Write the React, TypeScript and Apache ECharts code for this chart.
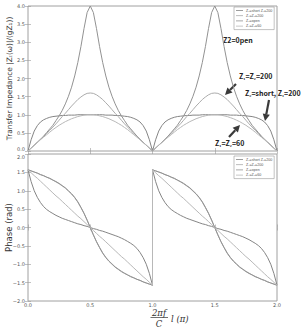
import React, { useEffect, useRef } from "react";
import * as echarts from "echarts";

// Electrical length 2πf·l/C in units of π; one period is sampled every 0.025.
const STEP = 0.025;
const PERIODS = [0, 1];

const SERIES_NAMES = ["Z\u2082=short Z\u2081=200", "Z\u2081=Z\u2082=200", "Z\u2082=open", "Z\u2081=Z\u2082=60"];
const COLORS = ["#858585", "#ababab", "#929292", "#b8b8b8"];

// |Zt| / (g Z1) over one period (0 … 1)
const magShort = [0, .31, .55, .70, .80, .86, .90, .93, .95, .96, .97, .98, .98, .99, .99, .99, 1.0, 1.0, 1.0, 1.0, 1.0,
  1.0, 1.0, 1.0, 1.0, .99, .99, .99, .98, .98, .97, .96, .95, .93, .90, .86, .80, .70, .55, .31, 0];
const mag200 = [0, .08, .16, .24, .32, .40, .49, .57, .66, .75, .85, .95, 1.04, 1.14, 1.24, 1.33, 1.42, 1.49, 1.55, 1.59, 1.60,
  1.59, 1.55, 1.49, 1.42, 1.33, 1.24, 1.14, 1.04, .95, .85, .75, .66, .57, .49, .40, .32, .24, .16, .08, 0];
const magOpen = [0, .08, .16, .24, .32, .41, .51, .61, .71, .84, .97, 1.12, 1.30, 1.51, 1.76, 2.07, 2.44, 2.88, 3.38, 3.82, 4.0,
  3.82, 3.38, 2.88, 2.44, 2.07, 1.76, 1.51, 1.30, 1.12, .97, .84, .71, .61, .51, .41, .32, .24, .16, .08, 0];
const mag60 = [0, .08, .16, .23, .31, .38, .45, .52, .59, .65, .71, .76, .81, .85, .89, .92, .95, .97, .99, 1.0, 1.0,
  1.0, .99, .97, .95, .92, .89, .85, .81, .76, .71, .65, .59, .52, .45, .38, .31, .23, .16, .08, 0];

// Phase (rad) over one period (0 … 1)
const phShort = [1.57, 1.25, 1.0, .82, .68, .57, .49, .43, .38, .33, .29, .25, .22, .19, .16, .13, .10, .08, .05, .03, 0,
  -.03, -.05, -.08, -.10, -.13, -.16, -.19, -.22, -.25, -.29, -.33, -.38, -.43, -.49, -.57, -.68, -.82, -1.0, -1.25, -1.57];
const ph200 = [1.57, 1.54, 1.51, 1.48, 1.44, 1.41, 1.37, 1.33, 1.29, 1.24, 1.19, 1.13, 1.07, .99, .91, .81, .69, .54, .38, .20, 0,
  -.20, -.38, -.54, -.69, -.81, -.91, -.99, -1.07, -1.13, -1.19, -1.24, -1.29, -1.33, -1.37, -1.41, -1.44, -1.48, -1.51, -1.54, -1.57];
const phOpen = [1.57, 1.54, 1.51, 1.48, 1.44, 1.41, 1.37, 1.34, 1.29, 1.25, 1.20, 1.14, 1.08, 1.00, .92, .82, .70, .55, .39, .20, 0,
  -.20, -.39, -.55, -.70, -.82, -.92, -1.00, -1.08, -1.14, -1.20, -1.25, -1.29, -1.34, -1.37, -1.41, -1.44, -1.48, -1.51, -1.54, -1.57];
const ph60 = [1.57, 1.49, 1.41, 1.34, 1.26, 1.18, 1.10, 1.02, .94, .86, .79, .71, .63, .55, .47, .39, .31, .24, .16, .08, 0,
  -.08, -.16, -.24, -.31, -.39, -.47, -.55, -.63, -.71, -.79, -.86, -.94, -1.02, -1.10, -1.18, -1.26, -1.34, -1.41, -1.49, -1.57];

const MAGS = [magShort, mag200, magOpen, mag60];
const PHASES = [phShort, ph200, phOpen, ph60];

const X_TICKS = ["0.0", "0.5", "1.0", "1.5", "2.0"];

// Repeat the one-period samples over both periods as [x, y] pairs.
function overPeriods(period: number[]): number[][] {
  const out: number[][] = [];
  PERIODS.forEach((p) => period.forEach((v, i) => out.push([p + i * STEP, v])));
  return out;
}

function arrow(tail: [number, number], head: [number, number]) {
  const dx = head[0] - tail[0];
  const dy = head[1] - tail[1];
  const len = Math.hypot(dx, dy);
  const ux = dx / len, uy = dy / len;
  const hl = 7, hw = 3.6;
  const bx = head[0] - ux * hl, by = head[1] - uy * hl;
  return [
    { type: "line", shape: { x1: tail[0], y1: tail[1], x2: bx, y2: by }, style: { stroke: "#3a3a3a", lineWidth: 2.2 } },
    {
      type: "polygon",
      shape: { points: [[head[0], head[1]], [bx - uy * hw, by + ux * hw], [bx + uy * hw, by - ux * hw]] },
      style: { fill: "#3a3a3a" },
    },
  ];
}

export default function App() {
  const ref = useRef<HTMLDivElement>(null);

  useEffect(() => {
    document.body.style.margin = "0";
    const chart = echarts.init(ref.current!, null, { renderer: "svg", width: 302, height: 332 });
    const GRID_L = 28, GRID_W = 249;
    const tickLabel = { fontSize: 5, color: "#555", fontFamily: "DejaVu Sans" };
    const tick = { show: true, inside: true, length: 3, lineStyle: { color: "#999", width: 0.6 } };

    const xAxes: any[] = [];
    const yAxes: any[] = [];
    [0, 1].forEach((g) => {
      xAxes.push({
        type: "value", gridIndex: g, min: 0, max: 2, interval: 0.5, position: "bottom",
        axisLine: { show: false }, splitLine: { show: false }, axisTick: tick,
        axisLabel: g === 1
          ? { ...tickLabel, margin: 1.5, formatter: (v: number) => X_TICKS[Math.round(v / 0.5)] }
          : { show: false },
      });
      xAxes.push({
        type: "value", gridIndex: g, min: 0, max: 2, interval: 0.5, position: "top",
        axisLine: { show: false }, splitLine: { show: false }, axisTick: tick, axisLabel: { show: false },
      });
      const yr = g === 0 ? { min: 0, max: 4 } : { min: -2, max: 2 };
      yAxes.push({
        type: "value", gridIndex: g, ...yr, interval: 0.5, position: "left",
        axisLine: { show: false }, splitLine: { show: false }, axisTick: tick,
        axisLabel: {
          ...tickLabel, margin: 3,
          ...(g === 0 ? { verticalAlignMinLabel: "bottom" } : { verticalAlignMaxLabel: "top" }),
          formatter: (v: number) => v.toFixed(1).replace("-", "\u2212"),
        },
      });
      yAxes.push({
        type: "value", gridIndex: g, ...yr, interval: 0.5, position: "right",
        axisLine: { show: false }, splitLine: { show: false }, axisTick: tick, axisLabel: { show: false },
      });
    });

    const series: any[] = [];
    MAGS.forEach((m, k) => series.push({
      name: SERIES_NAMES[k], type: "line", xAxisIndex: 0, yAxisIndex: 0, data: overPeriods(m),
      showSymbol: false, lineStyle: { width: 1, color: COLORS[k] }, itemStyle: { color: COLORS[k] }, z: 3,
    }));
    PHASES.forEach((p, k) => series.push({
      name: SERIES_NAMES[k], type: "line", xAxisIndex: 2, yAxisIndex: 2, data: overPeriods(p),
      showSymbol: false, lineStyle: { width: 1, color: COLORS[k] }, itemStyle: { color: COLORS[k] }, z: 3,
    }));

    const legendBase = {
      data: SERIES_NAMES, orient: "vertical", left: 234, width: 42, icon: "rect",
      itemWidth: 7, itemHeight: 0.8, itemGap: 1.2, padding: [1.5, 2, 1.5, 2],
      textStyle: { fontSize: 3.6, color: "#555", padding: [0, 0, 0, -2] },
      borderColor: "#999", borderWidth: 0.6, backgroundColor: "#fff", selectedMode: false,
    };

    const serif = "DejaVu Serif";
    const note = { fontFamily: "Noto Sans CJK SC", fontWeight: "bold", fontSize: 7, fill: "#222" };

    chart.setOption({
      animation: false,
      backgroundColor: "#fff",
      grid: [
        { left: GRID_L, top: 6, width: GRID_W, height: 145, show: true, borderColor: "#a0a0a0", borderWidth: 1, backgroundColor: "transparent" },
        { left: GRID_L, top: 154, width: GRID_W, height: 147, show: true, borderColor: "#a0a0a0", borderWidth: 1, backgroundColor: "transparent" },
      ],
      xAxis: xAxes,
      yAxis: yAxes,
      legend: [{ ...legendBase, top: 7 }, { ...legendBase, top: 156 }],
      series,
      graphic: [
        {
          type: "text", x: 9, y: 78.5, rotation: Math.PI / 2,
          style: { text: "Transfer Impedance |Z\u209C(\u03C9)|/(gZ\u2081))", fontSize: 7.4, fontFamily: "DejaVu Sans", fill: "#333", align: "center", verticalAlign: "middle" },
        },
        {
          type: "text", x: 9, y: 227.5, rotation: Math.PI / 2,
          style: { text: "Phase (rad)", fontSize: 8.5, fontFamily: "DejaVu Sans", fill: "#333", align: "center", verticalAlign: "middle" },
        },
        { type: "text", x: 159, y: 313, style: { text: "2\u03C0f", fontSize: 8.5, fontStyle: "italic", fontFamily: serif, fill: "#333", align: "center", verticalAlign: "middle" } },
        { type: "line", shape: { x1: 150.5, y1: 317.5, x2: 168, y2: 317.5 }, style: { stroke: "#333", lineWidth: 0.7 } },
        { type: "text", x: 159, y: 323.5, style: { text: "C", fontSize: 8.5, fontStyle: "italic", fontFamily: serif, fill: "#333", align: "center", verticalAlign: "middle" } },
        { type: "text", x: 171, y: 318.5, style: { text: "l (\u03C0)", fontSize: 8.5, fontStyle: "italic", fontFamily: serif, fill: "#333", align: "left", verticalAlign: "middle" } },
        { type: "text", x: 223, y: 40, style: { ...note, text: "Z2=0pen", verticalAlign: "middle" } },
        { type: "text", x: 239, y: 76, style: { ...note, text: "Z\u2081=Z\u2082=200", verticalAlign: "middle" } },
        { type: "text", x: 245, y: 93, style: { ...note, text: "Z\u2082=short, Z\u2081=200", verticalAlign: "middle" } },
        { type: "text", x: 215, y: 143, style: { ...note, text: "Z\u2081=Z\u2082=60", verticalAlign: "middle" } },
        ...arrow([236, 84], [225, 95]),
        ...arrow([269, 100], [265, 121]),
        ...arrow([229, 137], [240, 125]),
      ],
    });
    return () => chart.dispose();
  }, []);

  return <div ref={ref} style={{ position: "fixed", left: 0, top: 0, width: 302, height: 332 }} />;
}
